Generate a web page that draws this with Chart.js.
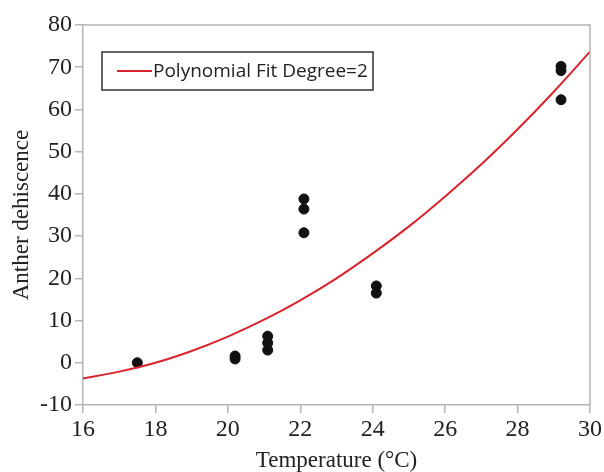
<!DOCTYPE html>
<html>
<head>
<meta charset="utf-8">
<script src="https://cdn.jsdelivr.net/npm/chart.js@4.4.0/dist/chart.umd.min.js"></script>
<style>
  html, body { margin: 0; padding: 0; background: #fff; }
  #wrap { width: 604px; height: 472px; position: relative; }
</style>
</head>
<body>
<div id="wrap"><canvas id="grafico"></canvas></div>
<script>
// observed points
const temperatura = [17.5, 20.2, 20.2, 21.1, 21.1, 21.1, 22.1, 22.1, 22.1, 24.1, 24.1, 29.2, 29.2, 29.2];
const deiscencia = [0, 1.6, 0.9, 6.3, 4.7, 3.0, 38.8, 36.4, 30.8, 18.2, 16.5, 70.2, 69.2, 62.3];

// fitted curve at each degree
const ajusteTemp = [16, 17, 18, 19, 20, 21, 22, 23, 24, 25, 26, 27, 28, 29, 30];
const ajusteValor = [-3.7, -2.1, 0.0, 2.8, 6.2, 10.2, 14.8, 20.0, 25.9, 32.3, 39.4, 47.0, 55.3, 64.2, 73.7];

const xTicks = [16, 18, 20, 22, 24, 26, 28, 30];
const yTicks = [-10, 0, 10, 20, 30, 40, 50, 60, 70, 80];
const legendaTexto = 'Polynomial Fit Degree=2';

const cinza = '#b4b4b4';
const vermelho = '#d9232e';
const serif = '"Liberation Serif", "Times New Roman", serif';

const moldura = {
    id: 'moldura',
    afterDraw(chart) {
        const { ctx, chartArea: a } = chart;
        ctx.save();
        ctx.strokeStyle = cinza;
        ctx.lineWidth = 1.5;
        ctx.beginPath();
        ctx.moveTo(a.left, a.top);
        ctx.lineTo(a.right, a.top);
        ctx.lineTo(a.right, a.bottom);
        ctx.stroke();

        // legend box
        const bx = a.left + 19, by = a.top + 27, bw = 271, bh = 38;
        ctx.strokeStyle = '#333';
        ctx.lineWidth = 1.5;
        ctx.strokeRect(bx, by, bw, bh);
        ctx.strokeStyle = vermelho;
        ctx.lineWidth = 2;
        ctx.beginPath();
        ctx.moveTo(bx + 15, by + bh / 2);
        ctx.lineTo(bx + 50, by + bh / 2);
        ctx.stroke();
        ctx.fillStyle = '#222';
        ctx.font = '19px "Open Sans", sans-serif';
        ctx.textBaseline = 'middle';
        ctx.fillText(legendaTexto, bx + 51, by + bh / 2 + 1);
        ctx.restore();
    }
};

function inicializarGrafico() {
    const ctx = document.getElementById('grafico').getContext('2d');
    return new Chart(ctx, {
        type: 'scatter',
        data: {
            datasets: [
                {
                    label: legendaTexto,
                    type: 'line',
                    data: ajusteTemp.map((t, i) => ({ x: t, y: ajusteValor[i] })),
                    borderColor: vermelho,
                    borderWidth: 2,
                    pointRadius: 0,
                    cubicInterpolationMode: 'monotone',
                    fill: false
                },
                {
                    label: 'Observed',
                    data: temperatura.map((t, i) => ({ x: t, y: deiscencia[i] })),
                    backgroundColor: '#111',
                    borderColor: '#111',
                    pointRadius: 5,
                    pointHoverRadius: 5
                }
            ]
        },
        options: {
            responsive: true,
            maintainAspectRatio: false,
            animation: false,
            events: [],
            layout: { padding: { left: 0, top: 25, right: 14, bottom: 0 } },
            plugins: {
                legend: { display: false },
                tooltip: { enabled: false }
            },
            scales: {
                x: {
                    type: 'linear',
                    min: 16,
                    max: 30,
                    afterBuildTicks: s => { s.ticks = xTicks.map(v => ({ value: v })); },
                    afterFit: s => { s.height = 67; },
                    border: { color: cinza, width: 1.5 },
                    grid: { drawOnChartArea: false, color: cinza, tickLength: 8, lineWidth: 1.5 },
                    ticks: { color: '#222', font: { family: serif, size: 24 }, padding: 2, maxRotation: 0 },
                    title: { display: true, text: 'Temperature (°C)', color: '#222', font: { family: serif, size: 23 }, padding: { top: 0, bottom: -3 } }
                },
                y: {
                    type: 'linear',
                    min: -10,
                    max: 80,
                    afterBuildTicks: s => { s.ticks = yTicks.map(v => ({ value: v })); },
                    afterFit: s => { s.width = 83; },
                    border: { color: cinza, width: 1.5 },
                    grid: { drawOnChartArea: false, color: cinza, tickLength: 8, lineWidth: 1.5 },
                    ticks: { color: '#222', font: { family: serif, size: 24 }, padding: 3 },
                    title: { display: true, text: 'Anther dehiscence', color: '#222', font: { family: serif, size: 23 }, padding: { top: 8, bottom: 0 } }
                }
            }
        },
        plugins: [moldura]
    });
}

inicializarGrafico();
</script>
</body>
</html>
